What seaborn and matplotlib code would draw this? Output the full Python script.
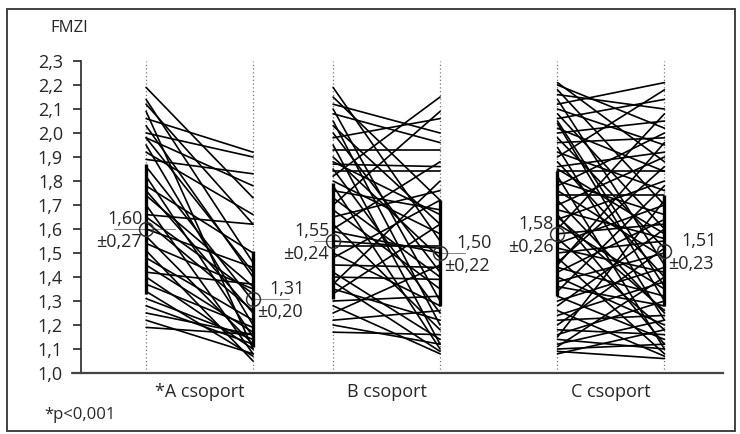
import numpy as np
import pandas as pd
import matplotlib
matplotlib.use("Agg")
import matplotlib.pyplot as plt
from matplotlib.patches import Rectangle
import seaborn as sns

# paired values (before -> after)
a_before = [2.19, 2.14, 2.12, 2.09, 2.06, 2.03, 2.00, 1.98, 1.95, 1.92, 1.89, 1.86,
            1.82, 1.78, 1.74, 1.70, 1.66, 1.63, 1.60, 1.57, 1.54, 1.51, 1.48, 1.45,
            1.42, 1.40, 1.37, 1.34, 1.31, 1.28, 1.25, 1.22, 1.19, 1.65, 1.76, 1.98]
a_after = [1.73, 1.46, 1.62, 1.10, 1.92, 1.40, 1.90, 1.78, 1.20, 1.66, 1.83, 1.30,
           1.15, 1.50, 1.36, 1.08, 1.62, 1.26, 1.44, 1.12, 1.35, 1.05, 1.22, 1.17,
           1.37, 1.10, 1.19, 1.07, 1.14, 1.12, 1.16, 1.08, 1.16, 1.33, 1.25, 1.42]

b_before = [2.19, 2.15, 2.12, 2.10, 2.08, 2.05, 2.03, 2.00, 1.98, 1.95, 1.93, 1.90,
            1.87, 1.85, 1.84, 1.82, 1.80, 1.78, 1.76, 1.73, 1.70, 1.68, 1.65, 1.62,
            1.59, 1.55, 1.53, 1.50, 1.48, 1.45, 1.42, 1.40, 1.37, 1.35, 1.33, 1.30,
            1.28, 1.25, 1.22, 1.20, 1.17, 1.38, 1.60, 1.88]
b_after = [1.55, 1.72, 2.00, 1.30, 1.96, 1.20, 1.62, 1.42, 2.06, 1.12, 1.93, 1.48,
           1.86, 1.25, 1.84, 2.15, 1.58, 1.10, 1.68, 1.40, 2.09, 1.35, 1.76, 1.18,
           1.50, 1.52, 1.53, 1.28, 1.72, 1.44, 1.14, 1.39, 1.80, 1.22, 1.62, 1.32,
           1.08, 1.45, 1.26, 1.12, 1.16, 1.09, 1.88, 1.66]

c_before = [2.21, 2.20, 2.18, 2.16, 2.14, 2.12, 2.10, 2.08, 2.06, 2.04, 2.02, 2.00,
            1.98, 1.96, 1.94, 1.92, 1.90, 1.88, 1.86, 1.84, 1.82, 1.80, 1.78, 1.76,
            1.74, 1.72, 1.70, 1.68, 1.66, 1.64, 1.62, 1.60, 1.58, 1.56, 1.54, 1.52,
            1.50, 1.48, 1.46, 1.44, 1.42, 1.40, 1.38, 1.36, 1.34, 1.32, 1.30, 1.28,
            1.26, 1.24, 1.22, 1.20, 1.18, 1.16, 1.14, 1.12, 1.10, 1.09, 1.08, 1.11,
            1.15, 1.45, 1.65, 1.85, 2.05]
c_after = [1.88, 2.02, 1.70, 2.10, 1.45, 2.21, 1.95, 1.60, 2.14, 1.30, 1.84, 2.05,
           1.52, 1.98, 1.22, 1.76, 2.18, 1.40, 1.92, 1.84, 1.10, 1.66, 2.00, 1.48,
           1.74, 1.25, 1.90, 1.56, 1.12, 1.80, 1.35, 2.08, 1.62, 1.18, 1.70, 1.42,
           1.55, 1.08, 1.86, 1.32, 1.64, 1.20, 1.50, 1.28, 1.78, 1.14, 1.44, 1.60,
           1.07, 1.38, 1.24, 1.52, 1.16, 1.30, 1.10, 1.22, 1.12, 1.06, 1.18, 1.40,
           1.72, 1.96, 1.26, 1.58, 1.36]

groups = ["*A csoport", "B csoport", "C csoport"]
means_before = [1.60, 1.55, 1.58]
sd_before = [0.27, 0.24, 0.26]
means_after = [1.31, 1.50, 1.51]
sd_after = [0.20, 0.22, 0.23]

y_ticks = [1.0, 1.1, 1.2, 1.3, 1.4, 1.5, 1.6, 1.7, 1.8, 1.9, 2.0, 2.1, 2.2, 2.3]
y_tick_labels = ["1,0", "1,1", "1,2", "1,3", "1,4", "1,5", "1,6", "1,7",
                 "1,8", "1,9", "2,0", "2,1", "2,2", "2,3"]

# layout: group centres and half width of each pair
centers = [0.0, 1.0, 2.2]
half = 0.286


def fmt(v):
    return "{:.2f}".format(v).replace(".", ",")


def main():
    sns.set_style("ticks")
    plt.rcParams["font.family"] = ["Open Sans", "DejaVu Sans"]

    rows = []
    pairs = [(a_before, a_after), (b_before, b_after), (c_before, c_after)]
    for g, (bef, aft) in enumerate(pairs):
        for i, (v0, v1) in enumerate(zip(bef, aft)):
            uid = "{}_{}".format(g, i)
            rows.append({"unit": uid, "x": centers[g] - half, "value": v0})
            rows.append({"unit": uid, "x": centers[g] + half, "value": v1})
    df = pd.DataFrame(rows)

    fig = plt.figure(figsize=(7.4, 4.34), dpi=100)
    ax = fig.add_axes([81 / 740, 1 - 373 / 434, (723 - 81) / 740, (373 - 61) / 434])

    # dotted guides
    for c in centers:
        for xx in (c - half, c + half):
            ax.plot([xx, xx], [1.0, 2.3], ls=(0, (1, 2)), color="#777777", lw=0.9, zorder=1)

    sns.lineplot(data=df, x="x", y="value", units="unit", estimator=None,
                 color="black", lw=1.2, ax=ax, zorder=2, legend=False)

    # mean +- sd bars and circles
    for g in range(3):
        for xx, m, s in ((centers[g] - half, means_before[g], sd_before[g]),
                         (centers[g] + half, means_after[g], sd_after[g])):
            ax.plot([xx, xx], [m - s, m + s], color="black", lw=2.4,
                    solid_capstyle="butt", zorder=3)
            ax.plot([xx], [m], marker="o", ms=10, mfc="none", mec="#333333",
                    mew=1.1, zorder=4)

    fs = 13
    gray = "#888888"
    for g in range(3):
        xl = centers[g] - half
        m = means_before[g]
        ax.text(xl - 0.02, m + 0.04, fmt(m), ha="right", va="center", fontsize=fs)
        ax.text(xl - 0.02, m - 0.055, "±" + fmt(sd_before[g]), ha="right", va="center", fontsize=fs)
        xr = centers[g] + half
        m2 = means_after[g]
        ax.text(xr + 0.09, m2 + 0.04, fmt(m2), ha="left", va="center", fontsize=fs)
        ax.text(xr + 0.02, m2 - 0.055, "±" + fmt(sd_after[g]), ha="left", va="center", fontsize=fs)
    # leader lines
    ax.plot([-0.46, -0.13], [means_before[0]] * 2, color=gray, lw=0.8, zorder=1)
    ax.plot([0.286, 0.48], [means_after[0]] * 2, color=gray, lw=0.8, zorder=1)
    ax.plot([0.61, 0.76], [means_before[1]] * 2, color=gray, lw=0.8, zorder=1)
    ax.plot([1.286, 1.42], [means_after[1]] * 2, color=gray, lw=0.8, zorder=1)

    ax.set_ylim(1.0, 2.3)
    ax.set_xlim(-0.634, 2.799)
    ax.set_yticks(y_ticks)
    ax.set_yticklabels(y_tick_labels, fontsize=fs)
    ax.set_xticks(centers)
    ax.set_xticklabels(groups, fontsize=fs)
    ax.tick_params(axis="x", length=0, pad=7)
    ax.tick_params(axis="y", length=6, width=1.2, pad=7, direction="out")
    ax.set_xlabel("")
    ax.set_ylabel("")
    sns.despine(ax=ax, top=True, right=True)
    ax.spines["left"].set_linewidth(1.2)
    ax.spines["bottom"].set_linewidth(1.6)
    ax.spines["bottom"].set_color("#444444")
    # bottom line runs a little past the y axis, as in the original
    ax.plot([-0.68, -0.634], [1.0, 1.0], color="#444444", lw=1.6, clip_on=False)

    fig.text(50 / 740, 1 - 28 / 434, "FMZI", fontsize=12, va="center", ha="left")
    fig.text(44 / 740, 1 - 415 / 434, "*p<0,001", fontsize=12, va="center", ha="left")

    fig.patches.append(Rectangle((7 / 740, 1 - 431 / 434), 728 / 740, 422 / 434,
                                 transform=fig.transFigure, fill=False,
                                 edgecolor="#333333", lw=1.3))

    fig.savefig("out.png", dpi=100)


if __name__ == "__main__":
    main()
